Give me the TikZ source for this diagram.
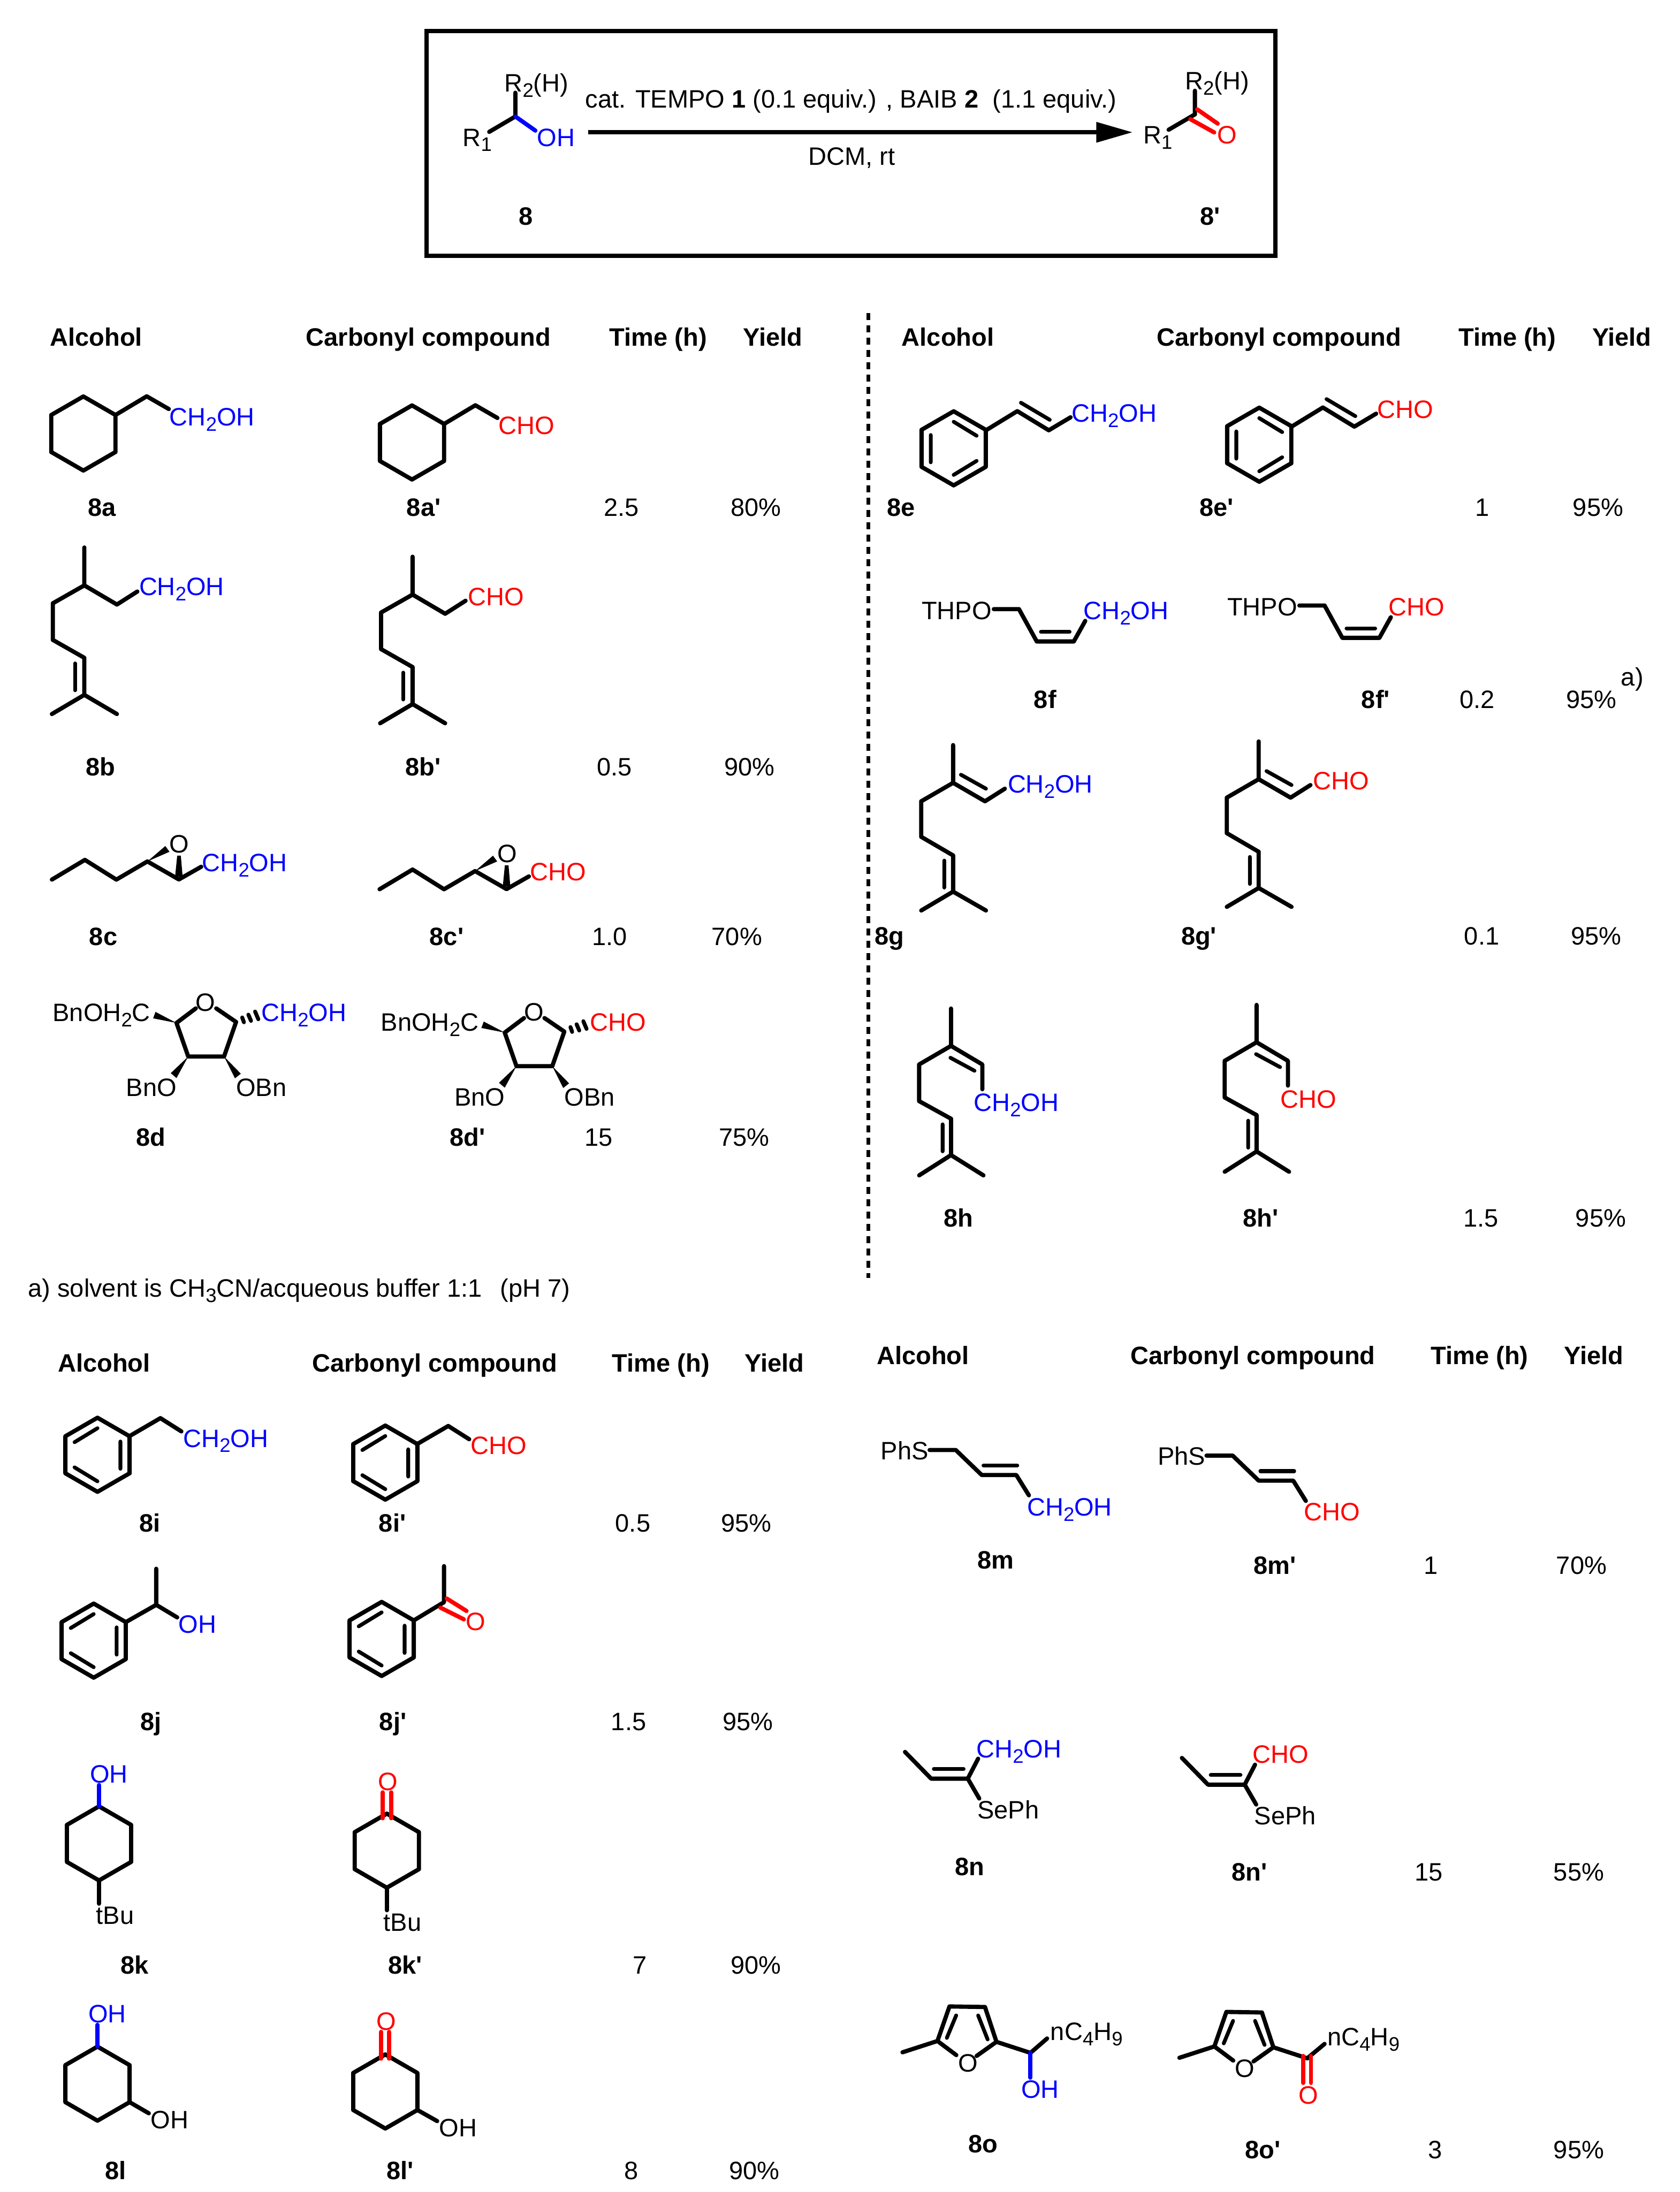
\documentclass[tikz,border=0pt]{standalone}
\usepackage{fontspec}
\setmainfont{Liberation Sans}
\usetikzlibrary{arrows.meta}
\newcommand{\sbs}[1]{\raisebox{-3.8pt}{\fontsize{14}{14}\selectfont #1}}
\newcommand{\chOH}{CH\sbs{2}OH}
\tikzset{
  bond/.style={line width=3pt,line cap=round,line join=round},
  bondb/.style={bond,blue},
  bondr/.style={bond,red},
  inbond/.style={line width=2.7pt,line cap=round},
  chem/.style={inner sep=0pt,anchor=base west,xshift=-0.7pt,yshift=-0.6pt,font=\fontsize{18}{20}\selectfont},
  chemb/.style={chem,text=blue},
  chemr/.style={chem,text=red},
  bld/.style={chem,font=\fontsize{18}{20}\selectfont\bfseries}
}
\newcommand{\hexring}[2]{\draw[bond] (#1,#2-26.5)--(#1+22.95,#2-13.25)--(#1+22.95,#2+13.25)--(#1,#2+26.5)--(#1-22.95,#2+13.25)--(#1-22.95,#2-13.25)--cycle;}
\newcommand{\phr}[2]{\hexring{#1}{#2}
  \draw[inbond] (#1,#2-19)--(#1+16.4,#2-9) (#1+16.4,#2+9)--(#1,#2+19) (#1-16.4,#2-9.5)--(#1-16.4,#2+10);}
\newcommand{\phl}[2]{\hexring{#1}{#2}
  \draw[inbond] (#1,#2-19)--(#1-16.4,#2-9) (#1-16.4,#2+9)--(#1,#2+19) (#1+16.4,#2-9.5)--(#1+16.4,#2+10);}
\newcommand{\molA}{\hexring{59.6}{310}\draw[bond] (82.5,296.8)--(104.9,283.4)--(120.7,292.5);}
\newcommand{\molB}{\draw[bond] (60.3,391.5)--(60.3,418.6)--(37.8,431.4)--(37.8,457.6)--(60.3,470.4)--(60.3,496.9)--(37.1,510.6) (60.3,496.9)--(83.6,510.6) (60.3,418.6)--(83.6,432.3)--(98.2,423);
  \draw[inbond] (53.6,474.4)--(53.6,493.6);}
\newcommand{\molC}{\draw[bond] (37.1,629)--(60.7,614.9)--(83.2,629)--(105.4,616)--(127.9,628.9)--(143.9,619.8);
  \fill (105.4,616)--(118.2,605)--(121.2,609.1)--cycle;
  \fill (126.7,611.9)--(129.3,611.9)--(130.6,627)--(125.2,627)--cycle;}
\newcommand{\molD}{\draw[bond] (140,721.1)--(126.2,731.5)--(134.6,755.5)--(160.2,755.5)--(168.8,730.8)--(154.6,721.1);
  \fill (126.2,731.5)--(109.5,728.2)--(111.2,723.6)--cycle;
  \fill (134.6,755.5)--(122.1,767.4)--(126.2,770.9)--cycle;
  \fill (160.2,755.5)--(172.2,767.8)--(168,771.1)--cycle;
  \draw[line width=2.8pt,line cap=round] (173.2,727.6)--(174.4,731) (177.6,725.6)--(179.5,730) (182.4,723.4)--(184.7,728.8);}
\newcommand{\molE}{\phr{681.9}{320.6}\draw[bond] (705,307.7)--(727.4,294)--(749.9,307.7)--(765.5,298.4);
  \draw[inbond] (730,288)--(750.6,300.2);}
\newcommand{\molF}{\draw[bond] (710.6,435.6)--(728.6,435.6)--(741.3,458.7)--(767.8,458.7)--(776,444);
  \draw[inbond] (744.3,451.9)--(764.8,451.9);}
\newcommand{\molG}{\draw[bond] (681.5,532.8)--(681.5,559.8)--(704.3,573)--(718.5,564) (681.5,559.8)--(658.7,573)--(658.7,598.4)--(681.5,611.7)--(681.5,637.6)--(658.7,651.1) (681.5,637.6)--(705,651.1);
  \draw[inbond] (687.1,554)--(705,564) (675.2,615.4)--(675.2,634.7);}
\newcommand{\molH}{\draw[bond] (680,721.2)--(680,747.9)--(702.4,761.2)--(702.4,778.9) (680,747.9)--(657.2,761.2)--(657.2,787.4)--(680,800)--(680,826)--(657.2,840.5) (680,826)--(703.2,840.5);
  \draw[inbond] (679.6,756.4)--(696.8,765.7) (674,804)--(674,823.3);}
\newcommand{\molI}{\phl{69.7}{1040.3}\draw[bond] (92.2,1027.2)--(114.7,1014.1)--(129.7,1023.6);}
\newcommand{\molM}{\draw[bond] (664.7,1036.9)--(683.4,1036.9)--(702,1054.8)--(726.7,1054.8)--(735.7,1069.3);
  \draw[inbond] (703.2,1048)--(727.4,1048);}
\newcommand{\molN}{\draw[bond] (647.1,1252.8)--(665.8,1271.9)--(692,1271.9)--(699.4,1257.6) (692,1271.9)--(700.2,1286.1);
  \draw[inbond] (667.7,1265)--(689,1265);}
\newcommand{\molO}{\draw[bond] (683.8,1469.6)--(670.3,1459.5)--(678.9,1434.8)--(704.3,1435.2)--(712.5,1460.1)--(698.3,1470.2) (670.3,1459.5)--(645.3,1467.6) (712.5,1460.1)--(736.8,1468);
  \draw[inbond] (683.7,1441.2)--(677,1457.3) (699.4,1441.2)--(706.2,1458.4);}
\begin{document}
\begin{tikzpicture}[x=1pt,y=-1pt]
  \useasboundingbox (0,0) rectangle (1201,1567.5);
  \draw[line width=3pt] (305,22.3) rectangle (912,182.8);
  \draw[bond] (368.5,66.3)--(368.5,83.3)--(349.8,94.3);
  \draw[bondb] (368.5,83.3)--(382.8,93.4);
  \node[chem] (rtwo) at (361.2,64.9) {R\sbs{2}(H)};
  \node[chem] (rone) at (331.4,103.9) {R\sbs{1}};
  \node[chemb] (ohs) at (384.5,103.9) {OH};
  \node[chem] (reag) at (419.1,76.5) {cat. TEMPO \textbf{1} (0.1 equiv.) , BAIB \textbf{2}\ \ (1.1 equiv.)};
  \node[chem] (solv) at (578.6,117.6) {DCM, rt};
  \coordinate (arrs) at (420.4,94.6);
  \coordinate (arre) at (809.9,94.6);
  \draw[-{Triangle[length=26pt,width=14pt]},line width=3pt] (arrs)--(arre);
  \draw[bond] (854.4,64.9)--(854.4,81.8)--(835.6,92.8);
  \draw[bondr] (856,78.2)--(870.7,88.4) (851.1,85.2)--(868.2,94.7);
  \node[chem] (rtwop) at (847.8,63.4) {R\sbs{2}(H)};
  \node[chem] (ronep) at (818,102.1) {R\sbs{1}};
  \node[chemr] (os) at (871,102.1) {O};
  \node[bld] (lbl) at (371.4,160.2) {8};
  \node[bld] (lblp) at (858.8,160.2) {8\textquotesingle};
  \foreach \nm/\yy/\xa/\xb/\xc/\xd in {A/246.7/36.3/219.3/436.3/532,B/246.7/645.3/827.5/1043.4/1139,C/980.4/41.9/223.8/438.2/533.1,D/975/627.4/808.9/1023.6/1118.9}{
    \node[bld] (alc\nm) at (\xa,\yy) {Alcohol};
    \node[bld] (car\nm) at (\xb,\yy) {Carbonyl compound};
    \node[bld] (tim\nm) at (\xc,\yy) {Time (h)};
    \node[bld] (yie\nm) at (\xd,\yy) {Yield};
  }
  \foreach \nm/\xa/\ya/\xb/\yb/\xc/\tm/\xd/\yl in {a/63.3/368.6/291.3/368.6/432.2/2.5/522.9/80,b/61.8/554.2/290.5/554.2/427.3/0.5/518.4/90,c/64.4/675.3/307.7/675.3/424/1.0/509.4/70,d/97.8/818.8/322/818.8/418.7/15/514.7/75,e/634.8/368.6/858.2/368.6/1055.4/1/1125.2/95,f/739.8/505.7/974/505.7/1044.2/0.2/1120.4/95,g/625.9/674.9/845.1/674.9/1047.5/0.1/1123.7/95,h/675.2/876.8/889.2/876.8/1046.8/1.5/1127.1/95,i/100/1095/271.4/1095/440.5/0.5/516.2/95,j/100.8/1236.9/271.8/1236.9/437.5/1.5/517.3/95,k/86.9/1410.8/278.1/1410.8/453.2/7/522.9/90,l/75.7/1558/277/1558/446.8/8/521.8/90,m/699.4/1121.3/897/1125.2/1018.8/1/1113.3/70,n/683.4/1340.7/881.3/1344.5/1012/15/1111.4/55,o/693.1/1538.9/890.7/1542.8/1021.8/3/1111.4/95}{
    \node[bld] (l\nm) at (\xa,\ya) {8\nm};
    \node[bld] (lp\nm) at (\xb,\yb) {8\nm\textquotesingle};
    \node[chem] (t\nm) at (\xc,\yb) {\tm};
    \node[chem] (y\nm) at (\xd,\yb) {\yl\%};
  }
  \node[chem] (fnf) at (1159.6,489.8) {a)};
  \node[chem] (note) at (20.6,927) {a) solvent is CH\sbs{3}CN/acqueous buffer 1:1\ \ \,(pH 7)};
  \draw[line width=2.5pt,dash pattern=on 5pt off 3.8pt] (621,224)--(621,914);
  \molA
  \node[chemb] (xa) at (121.8,304) {\chOH};
  \begin{scope}[shift={(235,6.4)}]\molA\end{scope}
  \node[chemr] (za) at (356.9,310.1) {CHO};
  \molB
  \node[chemb] (xb) at (100,425.2) {\chOH};
  \begin{scope}[shift={(234.7,6.6)}]\molB\end{scope}
  \node[chemr] (zb) at (335.1,432.3) {CHO};
  \molC
  \node[chem] (oc) at (121.8,609.1) {O};
  \node[chemb] (xc) at (145,622.5) {\chOH};
  \begin{scope}[shift={(234.3,6.9)}]\molC\end{scope}
  \node[chem] (ocp) at (356.1,616) {O};
  \node[chemr] (zc) at (379.7,629) {CHO};
  \molD
  \node[chem] (od) at (140.5,722.5) {O};
  \node[chem] (bna) at (38.2,729.7) {BnOH\sbs{2}C};
  \node[chemb] (xd) at (187.4,729.7) {\chOH};
  \node[chem] (bnb) at (90.7,783.4) {BnO};
  \node[chem] (bnc) at (169.4,783.4) {OBn};
  \begin{scope}[shift={(234.7,6.9)}]\molD\end{scope}
  \node[chem] (odp) at (375.2,729.4) {O};
  \node[chem] (bnap) at (272.9,736.6) {BnOH\sbs{2}C};
  \node[chemr] (zd) at (422.5,736.6) {CHO};
  \node[chem] (bnbp) at (325.4,790.3) {BnO};
  \node[chem] (bncp) at (404.1,790.3) {OBn};
  \molE
  \node[chemb] (xe) at (766.7,301.1) {\chOH};
  \begin{scope}[shift={(218.5,-2.6)}]\molE\end{scope}
  \node[chemr] (ze) at (985.2,298.4) {CHO};
  \molF
  \node[chem] (th) at (659.5,442.2) {THPO};
  \node[chemb] (xf) at (775.3,442.2) {\chOH};
  \begin{scope}[shift={(218.5,-2.6)}]\molF\end{scope}
  \node[chem] (thp) at (878,439.6) {THPO};
  \node[chemr] (zf) at (993.4,439.6) {CHO};
  \molG
  \node[chemb] (xg) at (721.1,566.4) {\chOH};
  \begin{scope}[shift={(218.5,-2.6)}]\molG\end{scope}
  \node[chemr] (zg) at (939.6,564) {CHO};
  \molH
  \node[chemb] (xh) at (696.8,794.2) {\chOH};
  \begin{scope}[shift={(218.5,-2.6)}]\molH\end{scope}
  \node[chemr] (zh) at (916,791.6) {CHO};
  \molI
  \node[chemb] (xi) at (131.5,1034.2) {\chOH};
  \begin{scope}[shift={(205.8,5.6)}]\molI\end{scope}
  \node[chemr] (zi) at (337,1039.5) {CHO};
  \phl{67}{1173.2}
  \draw[bond] (111.7,1121.8)--(111.7,1147.6)--(89.9,1160);
  \draw[bond] (111.7,1147.6)--(126.7,1156.6);
  \node[chemb] (xj) at (128.2,1167.1) {OH};
  \phl{272.9}{1172}
  \draw[bond] (317.5,1119.9)--(317.5,1145.7)--(295.8,1158.8);
  \draw[bondr] (319.4,1143.1)--(333.6,1152) (314.9,1149.6)--(331.7,1158);
  \node[chemr] (zj) at (333.6,1165.1) {O};
  \hexring{70.8}{1318.2}
  \draw[bondb] (70.8,1276.5)--(70.8,1291.7);
  \draw[bond] (70.8,1344.7)--(70.8,1361.3);
  \node[chemb] (xk) at (64.8,1274.5) {OH};
  \node[chem] (tb) at (69.3,1375.3) {tBu};
  \hexring{276.6}{1323.4}
  \draw[bondr] (273.6,1300.2)--(273.6,1281.7) (279.6,1300.2)--(279.6,1281.7);
  \draw[bond] (276.6,1349.9)--(276.6,1366);
  \node[chemr] (zk) at (271,1279.6) {O};
  \node[chem] (tbp) at (274.8,1380.5) {tBu};
  \hexring{69.7}{1490}
  \draw[bondb] (69.7,1448)--(69.7,1463.5);
  \draw[bond] (92.6,1503.2)--(106.4,1511.2);
  \node[chemb] (xl) at (63.7,1445.8) {OH};
  \node[chem] (ohl) at (108.3,1521.5) {OH};
  \hexring{275.5}{1495.6}
  \draw[bondr] (272.5,1472.1)--(272.5,1453) (278.1,1472.1)--(278.1,1453);
  \draw[bond] (298.4,1508.8)--(312.6,1516.8);
  \node[chemr] (zl) at (269.9,1451.1) {O};
  \node[chem] (ohlp) at (314.5,1527.1) {OH};
  \molM
  \node[chem] (ph) at (630.3,1043.1) {PhS};
  \node[chemb] (xm) at (734.9,1083.2) {\chOH};
  \begin{scope}[shift={(198,4)}]\molM\end{scope}
  \node[chem] (php) at (828.3,1047.1) {PhS};
  \node[chemr] (zm) at (932.9,1086.7) {CHO};
  \molN
  \node[chemb] (xn) at (698.7,1256.5) {\chOH};
  \node[chem] (se) at (699.4,1300.1) {SePh};
  \begin{scope}[shift={(198,4.3)}]\molN\end{scope}
  \node[chemr] (zn) at (896.3,1260.1) {CHO};
  \node[chem] (sep) at (897.4,1304.2) {SePh};
  \molO
  \draw[bond] (736.8,1468)--(748.7,1457.7);
  \draw[bondb] (736.8,1468)--(736.8,1485.7);
  \node[chem] (oo) at (685.6,1480.9) {O};
  \node[chem] (nb) at (751.7,1458.4) {nC\sbs{4}H\sbs{9}};
  \node[chemb] (xo) at (730.8,1499.9) {OH};
  \begin{scope}[shift={(198,3.9)}]\molO\end{scope}
  \draw[bond] (934.7,1471.9)--(947.1,1461.6);
  \draw[bondr] (931.8,1470.2)--(931.8,1489.5) (937.4,1470.2)--(937.4,1489.5);
  \node[chem] (oop) at (883.6,1484.8) {O};
  \node[chem] (nbp) at (949.7,1462.3) {nC\sbs{4}H\sbs{9}};
  \node[chemr] (zo) at (929.1,1504) {O};
\end{tikzpicture}
\end{document}
